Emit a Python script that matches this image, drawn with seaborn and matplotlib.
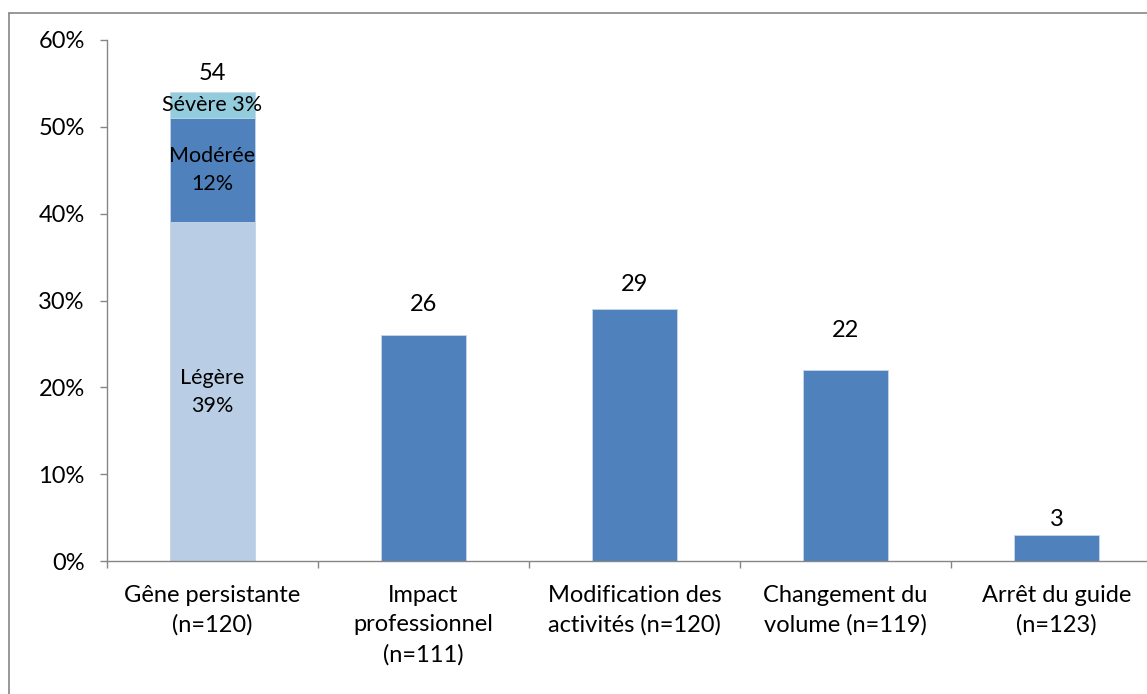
import numpy as np
import pandas as pd
import matplotlib.pyplot as plt
from matplotlib.lines import Line2D
from matplotlib.ticker import FuncFormatter
import seaborn as sns

# Data
categories = ['Gêne persistante\n(n=120)', 'Impact\nprofessionnel\n(n=111)',
              'Modification des\nactivités (n=120)', 'Changement du\nvolume (n=119)',
              'Arrêt du guide\n(n=123)']
totals = [54, 26, 29, 22, 3]
severity_labels = ['Légère', 'Modérée', 'Sévère']
severity_values = [39, 12, 3]
severity_text = ['Légère\n39%', 'Modérée\n12%', 'Sévère 3%']

# Styling
blue = '#4F81BD'
severity_colors = ['#B9CDE5', '#4F81BD', '#93CDDD']
grey = '#868686'
label_offsets = [2.1, 3.5, 2.9, 4.5, 1.8]

sns.set_style('white')
plt.rcParams['font.family'] = ['Lato', 'DejaVu Sans']

fig = plt.figure(figsize=(11.47, 6.94), dpi=100)
W, H = 1147, 694
ax = fig.add_axes([107 / W, (H - 561) / H, 1055 / W, 521 / H])

# Plain bars (everything but the stacked first category)
df = pd.DataFrame({'cat': categories[1:], 'val': totals[1:]})
sns.barplot(data=df, x='cat', y='val', order=categories, color=blue,
            width=0.4, saturation=1, edgecolor='#C9D7EA', linewidth=0.6, ax=ax)

# Stacked bar for the first category: draw cumulative heights, tallest first
cum = np.cumsum(severity_values)
for top, col in zip(cum[::-1], severity_colors[::-1]):
    sns.barplot(x=[categories[0]], y=[top], order=categories, color=col,
                width=0.4, saturation=1, edgecolor='#C9D7EA', linewidth=0.6, ax=ax)

# Segment labels
bottoms = np.concatenate([[0], cum[:-1]])
for b, v, txt in zip(bottoms, severity_values, severity_text):
    ax.text(0, b + v / 2, txt, ha='center', va='center', fontsize=15.5,
            linespacing=1.5, color='black')

# Value labels above bars
for i, (v, off) in enumerate(zip(totals, label_offsets)):
    ax.text(i, v + off, str(v), ha='center', va='center', fontsize=17, color='black')

ax.set_xlim(-0.5, 4.5)
ax.set_ylim(0, 60)
ax.set_yticks(np.arange(0, 61, 10))
ax.yaxis.set_major_formatter(FuncFormatter(lambda y, _: f'{int(y)}%'))
ax.set_xticks(np.arange(-0.5, 5, 1), minor=True)
ax.set_xlabel('')
ax.set_ylabel('')

for s in ['top', 'right']:
    ax.spines[s].set_visible(False)
for s in ['left', 'bottom']:
    ax.spines[s].set_color(grey)
    ax.spines[s].set_linewidth(1)

ax.tick_params(axis='y', which='major', direction='out', length=5, width=1,
               color=grey, pad=11, labelsize=17, labelcolor='black', left=True)
ax.tick_params(axis='x', which='major', length=0, pad=17, labelsize=17,
               labelcolor='black')
ax.tick_params(axis='x', which='minor', direction='out', length=5, width=1,
               color=grey, bottom=True)
for lab in ax.get_xticklabels():
    lab.set_linespacing(1.5)
    lab.set_multialignment('center')

# Chart frame (top and left edges visible)
fig.add_artist(Line2D([9 / W, 9 / W], [0, 1 - 13 / H], color=grey, lw=1.2))
fig.add_artist(Line2D([9 / W, 1], [1 - 13 / H, 1 - 13 / H], color=grey, lw=1.2))

fig.savefig('out.png', dpi=100)
